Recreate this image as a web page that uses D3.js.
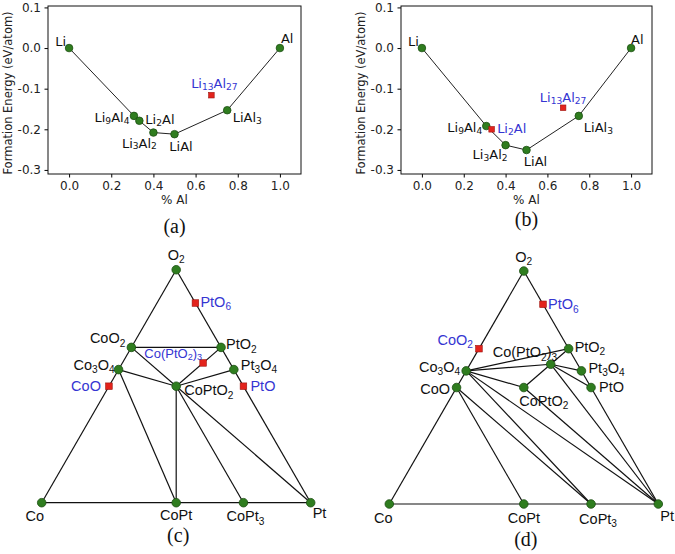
<!DOCTYPE html>
<html>
<head>
<meta charset="utf-8">
<script src="https://cdn.jsdelivr.net/npm/d3@7"></script>
<style>
  html, body { margin: 0; padding: 0; background: #fff; }
  svg { display: block; }
</style>
</head>
<body>
<div id="chart"></div>
<script>
// ---- data: Li-Al convex hulls (a), (b) ----
const xTicks = [0, 0.2, 0.4, 0.6, 0.8, 1.0];
const yTicks = [-0.3, -0.2, -0.1, 0.0, 0.1];

const hullNamesA = ["Li", "Li9Al4", "Li2Al", "Li3Al2", "LiAl", "LiAl3", "Al"];
const hullFracA = [0, 0.3077, 0.3333, 0.4, 0.5, 0.75, 1];
const hullEnergyA = [0, -0.167, -0.179, -0.208, -0.212, -0.153, 0];
const offHullNamesA = ["Li13Al27"];
const offHullFracA = [0.675];
const offHullEnergyA = [-0.116];

const hullNamesB = ["Li", "Li9Al4", "Li3Al2", "LiAl", "LiAl3", "Al"];
const hullFracB = [0, 0.3077, 0.4, 0.5, 0.75, 1];
const hullEnergyB = [0, -0.192, -0.239, -0.251, -0.167, 0];
const offHullNamesB = ["Li2Al", "Li13Al27"];
const offHullFracB = [0.3333, 0.675];
const offHullEnergyB = [-0.200, -0.147];

// ---- data: Co-Pt-O phase diagrams (c), (d) ----
const phaseNames = ["Co", "Pt", "O2", "CoO2", "PtO2", "Co3O4", "CoO", "Pt3O4", "PtO", "PtO6", "CoPtO2", "Co(PtO2)3", "CoPt", "CoPt3"];
const phaseCo = [1, 0, 0, 1/3, 0, 3/7, 1/2, 0, 0, 0, 1/4, 1/10, 1/2, 1/4];
const phasePt = [0, 1, 0, 0, 1/3, 0, 0, 3/7, 1/2, 1/7, 1/4, 3/10, 1/2, 3/4];
const phaseO = [0, 0, 1, 2/3, 2/3, 4/7, 1/2, 4/7, 1/2, 6/7, 1/2, 6/10, 0, 0];

const stableC = ["Co", "Pt", "O2", "CoO2", "PtO2", "Co3O4", "Pt3O4", "CoPtO2", "CoPt", "CoPt3"];
const unstableC = ["PtO6", "Co(PtO2)3", "CoO", "PtO"];
const tielinesC = [
  ["Co", "Pt"], ["Co", "O2"], ["O2", "Pt"],
  ["CoO2", "PtO2"], ["CoO2", "CoPtO2"], ["Co3O4", "CoPtO2"], ["Co3O4", "CoPt"],
  ["CoPtO2", "PtO2"], ["CoPtO2", "Pt3O4"], ["CoPtO2", "CoPt"], ["CoPtO2", "CoPt3"],
  ["CoPtO2", "Pt"]
];

const stableD = ["Co", "Pt", "O2", "PtO2", "Co(PtO2)3", "Pt3O4", "PtO", "Co3O4", "CoO", "CoPtO2", "CoPt", "CoPt3"];
const unstableD = ["PtO6", "CoO2"];
const tielinesD = [
  ["Co", "Pt"], ["Co", "O2"], ["O2", "Pt"],
  ["Co3O4", "PtO2"], ["Co3O4", "Co(PtO2)3"], ["Co3O4", "CoPtO2"], ["Co3O4", "CoPt3"], ["Co3O4", "Pt"],
  ["CoO", "CoPt"], ["CoO", "CoPt3"],
  ["CoPtO2", "Co(PtO2)3"], ["CoPtO2", "Pt"],
  ["Co(PtO2)3", "PtO2"], ["Co(PtO2)3", "Pt3O4"], ["Co(PtO2)3", "PtO"], ["Co(PtO2)3", "Pt"]
];

// ---- style ----
const green = "#2f7d1f";
const greenEdge = "#1c4f12";
const red = "#e3231c";
const redEdge = "#9c1510";
const blue = "#3535d2";
const dejavu = "DejaVu Sans, sans-serif";
const arial = "Liberation Sans, Arial, sans-serif";
const serif = "Liberation Serif, Times New Roman, serif";

const svg = d3.select("#chart").append("svg")
  .attr("width", 675).attr("height", 554)
  .attr("viewBox", [0, 0, 675, 554]);

// writes a chemical formula, every digit as a subscript
function formula(text, str, size) {
  const runs = str.match(/\d+|\D+/g);
  const shift = size * 0.3;
  let down = false;
  runs.forEach(r => {
    const isSub = /\d/.test(r);
    const t = text.append("tspan").text(r)
      .attr("font-size", isSub ? size * 0.7 : size);
    if (isSub && !down) { t.attr("dy", shift); down = true; }
    else if (!isSub && down) { t.attr("dy", -shift); down = false; }
  });
}

function label(g, x, y, str, o, size, family, color) {
  const t = g.append("text")
    .attr("x", x + o[0]).attr("y", y + o[1])
    .attr("text-anchor", o[2])
    .attr("dominant-baseline", "central")
    .attr("font-family", family)
    .attr("font-size", size)
    .attr("fill", color);
  formula(t, str, size);
}

// ---- hull panels ----
function hullPanel(opts) {
  const { left, right, yLabelX, letter, letterY, hullNames, hullFrac, hullEnergy,
          offNames, offFrac, offEnergy, offsets } = opts;
  const top = 6, bottom = 174;
  const x = d3.scaleLinear().domain([-0.1, 1.1]).range([left, right]);
  const y = d3.scaleLinear().domain([-0.31, 0.1035]).range([bottom, top]);
  const g = svg.append("g");

  g.append("g")
    .attr("transform", `translate(0,${bottom})`)
    .call(d3.axisBottom(x).tickValues(xTicks).tickFormat(d => d.toFixed(1))
      .tickSize(3.5).tickPadding(3.5))
    .call(a => a.select(".domain").remove())
    .attr("font-family", dejavu).attr("font-size", 12);

  g.append("g")
    .attr("transform", `translate(${left},0)`)
    .call(d3.axisLeft(y).tickValues(yTicks).tickFormat(d => d.toFixed(1))
      .tickSize(3.5).tickPadding(3.5))
    .call(a => a.select(".domain").remove())
    .attr("font-family", dejavu).attr("font-size", 12);

  g.selectAll(".tick text").attr("fill", "#222");

  g.append("rect")
    .attr("x", left).attr("y", top)
    .attr("width", right - left).attr("height", bottom - top)
    .attr("fill", "none").attr("stroke", "#111").attr("stroke-width", 1);

  g.append("text")
    .attr("transform", `translate(${yLabelX},${(top + bottom) / 2 + 3}) rotate(-90)`)
    .attr("text-anchor", "middle").attr("dominant-baseline", "central")
    .attr("font-family", dejavu).attr("font-size", 11.5).attr("fill", "#222")
    .text("Formation Energy (eV/atom)");

  g.append("text")
    .attr("x", (left + right) / 2).attr("y", 200)
    .attr("text-anchor", "middle").attr("dominant-baseline", "central")
    .attr("font-family", dejavu).attr("font-size", 12).attr("fill", "#222")
    .text("% Al");

  g.append("text")
    .attr("x", (left + right) / 2).attr("y", letterY)
    .attr("text-anchor", "middle").attr("dominant-baseline", "central")
    .attr("font-family", serif).attr("font-size", 20).attr("fill", "#111")
    .text(letter);

  const line = d3.line().x((d, i) => x(hullFrac[i])).y(d => y(d));
  g.append("path")
    .attr("d", line(hullEnergy))
    .attr("fill", "none").attr("stroke", "#222").attr("stroke-width", 1);

  g.selectAll("circle.hull").data(hullEnergy).join("circle")
    .attr("cx", (d, i) => x(hullFrac[i])).attr("cy", d => y(d))
    .attr("r", 3.8).attr("fill", green).attr("stroke", greenEdge).attr("stroke-width", 0.8);

  g.selectAll("rect.off").data(offEnergy).join("rect")
    .attr("x", (d, i) => x(offFrac[i]) - 2.8).attr("y", d => y(d) - 2.8)
    .attr("width", 5.6).attr("height", 5.6)
    .attr("fill", red).attr("stroke", redEdge).attr("stroke-width", 0.6);

  hullNames.forEach((n, i) =>
    label(g, x(hullFrac[i]), y(hullEnergy[i]), n, offsets[n], 13, dejavu, "#111"));
  offNames.forEach((n, i) =>
    label(g, x(offFrac[i]), y(offEnergy[i]), n, offsets["*" + n], 13, dejavu, blue));
}

hullPanel({
  left: 48, right: 301, yLabelX: 8, letter: "(a)", letterY: 226,
  hullNames: hullNamesA, hullFrac: hullFracA, hullEnergy: hullEnergyA,
  offNames: offHullNamesA, offFrac: offHullFracA, offEnergy: offHullEnergyA,
  offsets: {
    "Li": [-3, -7, "end"], "Al": [1, -10, "start"],
    "Li9Al4": [-4.5, 1.5, "end"], "Li2Al": [6, -2, "start"],
    "Li3Al2": [3.5, 10, "end"], "LiAl": [6.5, 11.5, "middle"],
    "LiAl3": [5.5, 7, "start"], "*Li13Al27": [3, -12.5, "middle"]
  }
});

hullPanel({
  left: 401, right: 652, yLabelX: 361, letter: "(b)", letterY: 219,
  hullNames: hullNamesB, hullFrac: hullFracB, hullEnergy: hullEnergyB,
  offNames: offHullNamesB, offFrac: offHullFracB, offEnergy: offHullEnergyB,
  offsets: {
    "Li": [-3, -7, "end"], "Al": [0, -9.5, "start"],
    "Li9Al4": [-4, 1, "end"], "Li3Al2": [2, 9, "end"],
    "LiAl": [9, 11, "middle"], "LiAl3": [5, 11, "start"],
    "*Li2Al": [5.5, -1.5, "start"], "*Li13Al27": [0, -11, "middle"]
  }
});

// ---- ternary panels ----
function ternaryPanel(opts) {
  const { coX, ptX, baseY, letter, letterY, stable, unstable, tielines, offsets, sizes } = opts;
  const height = (ptX - coX) * Math.sqrt(3) / 2;
  const tx = d3.scaleLinear().domain([0, 1]).range([coX, ptX]);
  const ty = d3.scaleLinear().domain([0, 1]).range([baseY, baseY - height]);
  const idx = n => phaseNames.indexOf(n);
  const px = n => tx(phasePt[idx(n)] + phaseO[idx(n)] / 2);
  const py = n => ty(phaseO[idx(n)]);
  const g = svg.append("g");

  g.selectAll("line").data(tielines).join("line")
    .attr("x1", d => px(d[0])).attr("y1", d => py(d[0]))
    .attr("x2", d => px(d[1])).attr("y2", d => py(d[1]))
    .attr("stroke", "#111").attr("stroke-width", 1.2);

  g.selectAll("circle").data(stable).join("circle")
    .attr("cx", px).attr("cy", py).attr("r", 4.3)
    .attr("fill", green).attr("stroke", greenEdge).attr("stroke-width", 0.8);

  g.selectAll("rect").data(unstable).join("rect")
    .attr("x", d => px(d) - 3.3).attr("y", d => py(d) - 3.3)
    .attr("width", 6.6).attr("height", 6.6)
    .attr("fill", red).attr("stroke", redEdge).attr("stroke-width", 0.6);

  stable.forEach(n => label(g, px(n), py(n), n, offsets[n], sizes[n] || 14.5, arial, "#111"));
  unstable.forEach(n => label(g, px(n), py(n), n, offsets[n], sizes[n] || 14.5, arial, blue));

  g.append("text")
    .attr("x", (coX + ptX) / 2 + 2).attr("y", letterY)
    .attr("text-anchor", "middle").attr("dominant-baseline", "central")
    .attr("font-family", serif).attr("font-size", 20).attr("fill", "#111")
    .text(letter);
}

ternaryPanel({
  coX: 41.7, ptX: 310.7, baseY: 502.7, letter: "(c)", letterY: 535,
  stable: stableC, unstable: unstableC, tielines: tielinesC,
  sizes: { "Co(PtO2)3": 13 },
  offsets: {
    "O2": [0, -15, "middle"], "PtO6": [5, -1, "start"],
    "CoO2": [-6, -9, "end"], "PtO2": [5, -3, "start"],
    "Co(PtO2)3": [-1, -10, "end"], "Co3O4": [-4, -5, "end"],
    "Pt3O4": [7, -5, "start"], "CoO": [-8, 0, "end"],
    "PtO": [7, 0, "start"], "CoPtO2": [8, 4, "start"],
    "Co": [-7, 13, "middle"], "CoPt": [0, 12.5, "middle"],
    "CoPt3": [2, 13.5, "middle"], "Pt": [2, 10, "start"]
  }
});

ternaryPanel({
  coX: 389.3, ptX: 658.3, baseY: 504, letter: "(d)", letterY: 539,
  stable: stableD, unstable: unstableD, tielines: tielinesD,
  sizes: {},
  offsets: {
    "O2": [0, -14, "middle"], "PtO6": [5, 0, "start"],
    "CoO2": [-6, -9, "end"], "PtO2": [6, -2, "start"],
    "Co(PtO2)3": [-58, -12, "start"], "Co3O4": [-6, -4, "end"],
    "Pt3O4": [7, -3, "start"], "CoO": [-6.5, 1, "end"],
    "PtO": [8, -0.5, "start"], "CoPtO2": [-4.5, 13, "start"],
    "Co": [-6, 14, "middle"], "CoPt": [0, 13.5, "middle"],
    "CoPt3": [7, 15, "middle"], "Pt": [2, 12, "start"]
  }
});
</script>
</body>
</html>
